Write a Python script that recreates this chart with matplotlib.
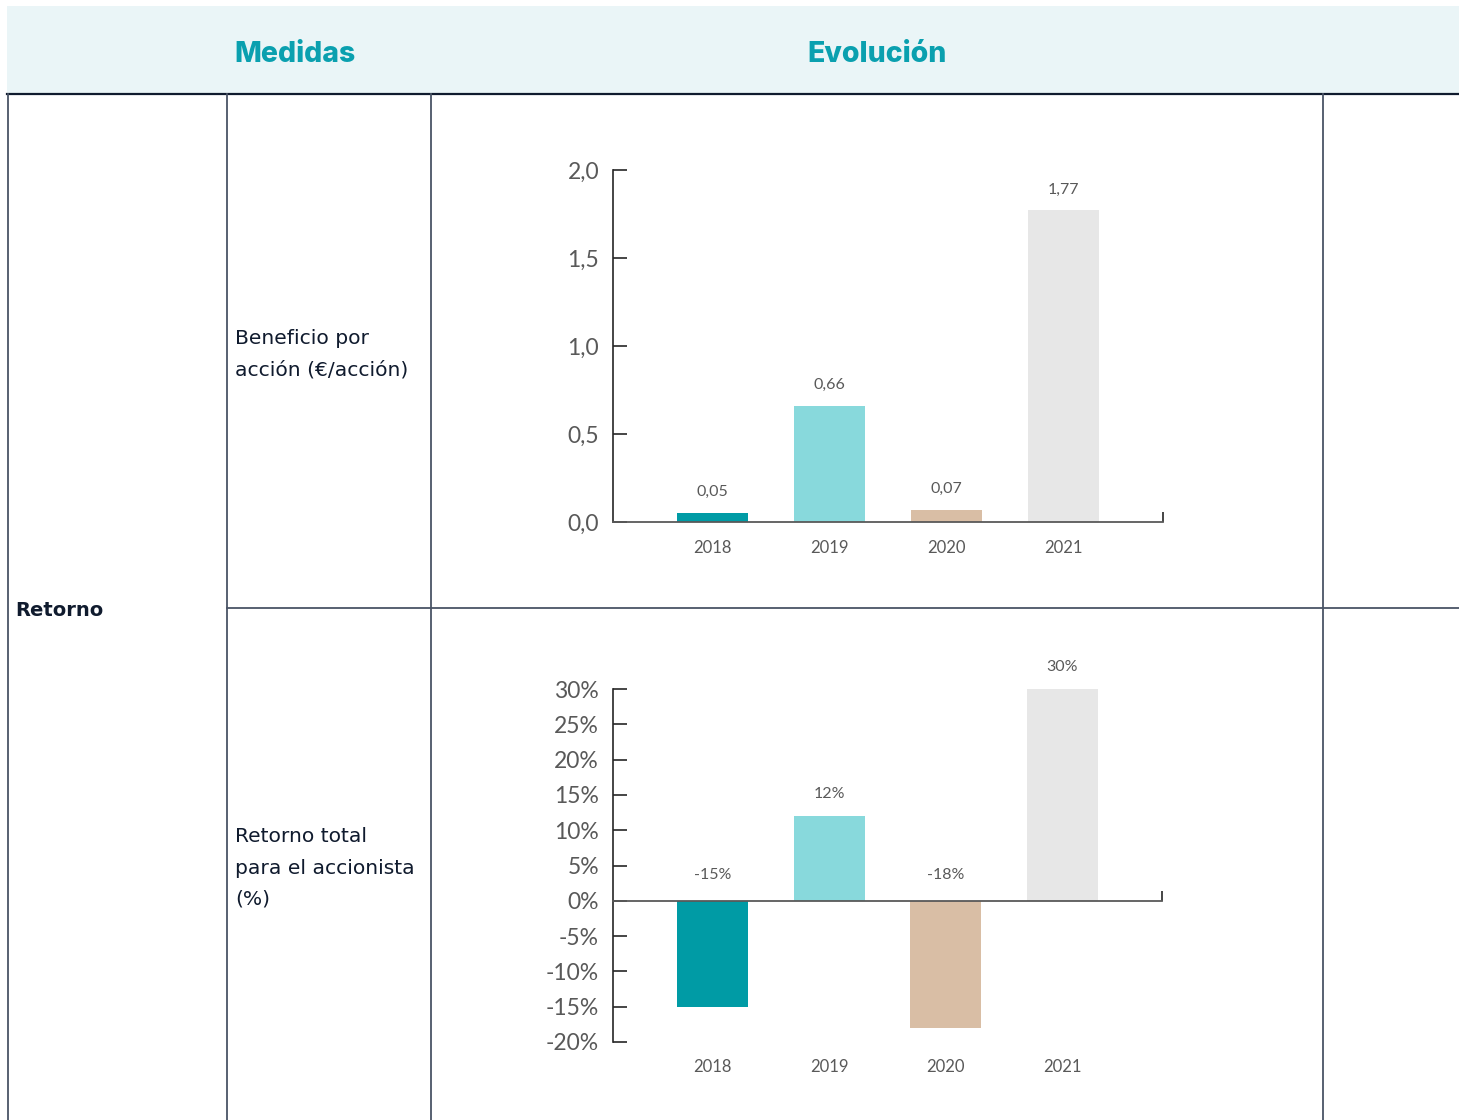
import matplotlib
matplotlib.use("Agg")
import matplotlib.pyplot as plt
from matplotlib.patches import Rectangle
from matplotlib.ticker import FixedLocator

# ---------------- data ----------------
years = ["2018", "2019", "2020", "2021"]
eps_values = [0.05, 0.66, 0.07, 1.77]
eps_labels = ["0,05", "0,66", "0,07", "1,77"]
eps_ticks = [0.0, 0.5, 1.0, 1.5, 2.0]
eps_ticklabels = ["0,0", "0,5", "1,0", "1,5", "2,0"]

tsr_values = [-15, 12, -18, 30]
tsr_labels = ["-15%", "12%", "-18%", "30%"]
tsr_ticks = [-20, -15, -10, -5, 0, 5, 10, 15, 20, 25, 30]
tsr_ticklabels = ["-20%", "-15%", "-10%", "-5%", "0%", "5%", "10%", "15%", "20%", "25%", "30%"]

header_left = "Medidas"
header_right = "Evolución"
group_label = "Retorno"
row1_label = "Beneficio por\nacción (€/acción)"
row2_label = "Retorno total\npara el accionista\n(%)"

bar_colors = ["#009BA5", "#88D9DC", "#D9BEA5", "#E7E7E7"]
teal = "#0AA0AF"
navy = "#101B2E"
grid_col = "#4A5466"
lab_col = "#595959"

W, H = 1459, 1120
fig = plt.figure(figsize=(W / 100, H / 100), dpi=100)
fig.patch.set_facecolor("white")

# ---------------- table frame ----------------
tab = fig.add_axes([0, 0, 1, 1])
tab.set_xlim(0, W)
tab.set_ylim(H, 0)
tab.axis("off")
tab.add_patch(Rectangle((7, 6), W - 7, 87, facecolor="#EAF5F7", edgecolor="none"))
tab.plot([7, W], [93.5, 93.5], color=navy, lw=1.6)
for x in [7.5, 227, 431, 1323]:
    tab.plot([x, x], [94, H], color=grid_col, lw=1.3)
tab.plot([227, W], [607.5, 607.5], color=grid_col, lw=1.3)

tab.text(295, 54, header_left, color=teal, fontsize=20.5, fontweight="heavy",
         family="Inter", ha="center", va="center")
tab.text(877, 54, header_right, color=teal, fontsize=20.5, fontweight="heavy",
         family="Inter", ha="center", va="center")
tab.text(15, 611, group_label, color=navy, fontsize=14, fontweight="bold",
         family="DejaVu Sans", ha="left", va="center")
tab.text(235, 354, row1_label, color=navy, fontsize=14.6, family="DejaVu Sans",
         ha="left", va="center", linespacing=1.8)
tab.text(235, 868, row2_label, color=navy, fontsize=14.6, family="DejaVu Sans",
         ha="left", va="center", linespacing=1.8)

xpos = list(range(len(years)))
chart_font = "Lato"


def style_axis(ax, ticks, ticklabels, ylim, year_offset):
    ax.set_xlim(-0.855, 3.855)
    ax.set_ylim(*ylim)
    ax.spines["top"].set_visible(False)
    ax.spines["right"].set_visible(False)
    ax.spines["left"].set_color("#262626")
    ax.spines["left"].set_linewidth(1.2)
    ax.spines["bottom"].set_color("#595959")
    ax.spines["bottom"].set_linewidth(1.3)
    ax.spines["bottom"].set_position(("data", 0))
    ax.set_yticks(ticks)
    ax.set_yticklabels(ticklabels, fontsize=16.5, color=lab_col, family=chart_font)
    ax.tick_params(axis="y", direction="in", length=10, width=1.2, color="#262626", pad=10)
    ax.set_xticks([])
    ax.xaxis.set_minor_locator(FixedLocator([ax.get_xlim()[1]]))
    ax.tick_params(axis="x", which="minor", direction="in", length=7, width=1.2,
                   color="#262626", labelbottom=False)
    ax.patch.set_alpha(0)
    # year labels sit below the plot area
    for i, y in enumerate(years):
        ax.annotate(y, xy=(xpos[i], 0), xycoords=("data", "axes fraction"),
                    xytext=(0, year_offset), textcoords="offset pixels",
                    ha="center", va="center",
                    fontsize=12, color=lab_col, family=chart_font)


# ---------------- chart 1 ----------------
ax1 = fig.add_axes([613 / W, 1 - 522 / H, 550 / W, 352 / H])
ax1.bar(xpos, eps_values, width=0.607, color=bar_colors, zorder=1)
style_axis(ax1, eps_ticks, eps_ticklabels, (0, 2.0), -26)
for i, v in enumerate(eps_values):
    ax1.annotate(eps_labels[i], xy=(xpos[i], max(v, 0)), xytext=(0, 21),
                 textcoords="offset pixels", ha="center", va="center",
                 fontsize=11.5, color=lab_col, family=chart_font)

# ---------------- chart 2 ----------------
ax2 = fig.add_axes([613 / W, 1 - 1042 / H, 549 / W, 353 / H])
ax2.bar(xpos, tsr_values, width=0.607, color=bar_colors, zorder=1)
style_axis(ax2, tsr_ticks, tsr_ticklabels, (-20, 30), -25)
for i, v in enumerate(tsr_values):
    ax2.annotate(tsr_labels[i], xy=(xpos[i], max(v, 0)), xytext=(0, 22 if v > 0 else 26),
                 textcoords="offset pixels", ha="center", va="center",
                 fontsize=11.5, color=lab_col, family=chart_font)

fig.savefig("out.png", dpi=100, facecolor="white")
